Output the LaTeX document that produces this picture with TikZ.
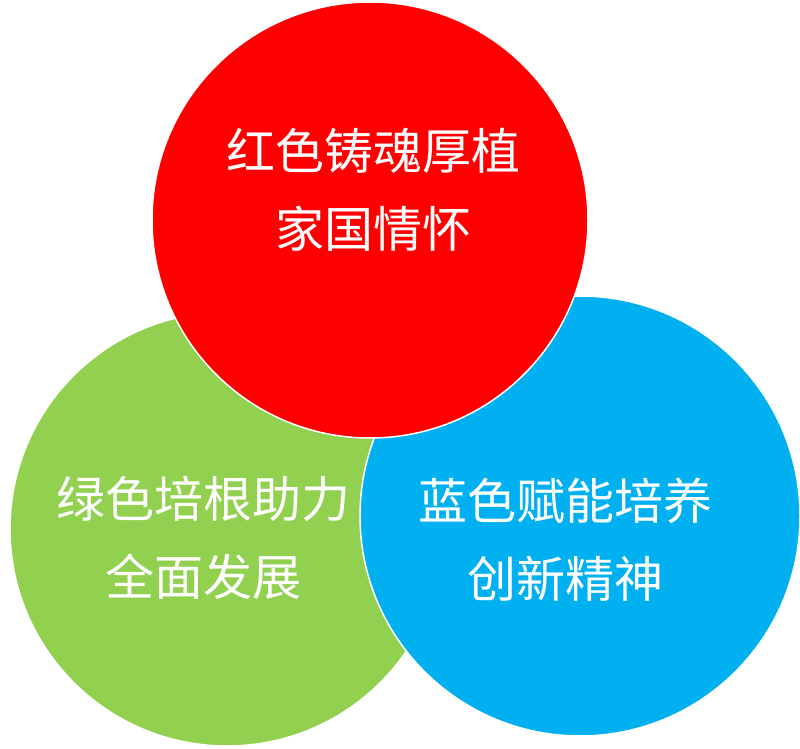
\documentclass[tikz,border=0pt]{standalone}
\usepackage{fontspec}
\newfontfamily\cjk{Noto Sans CJK SC}
\definecolor{redc}{RGB}{255,0,0}
\definecolor{greenc}{RGB}{146,208,80}
\definecolor{bluec}{RGB}{0,176,240}
\begin{document}
\begin{tikzpicture}[x=1pt,y=1pt,
  disc/.style={draw=white,line width=1.5pt},
  lbl/.style={text=white,font=\cjk\fontsize{49}{78}\selectfont,align=center}]
\useasboundingbox (0,0) rectangle (800,748);
% circles
\fill[greenc,disc] (227,219) circle (217);
\fill[bluec,disc] (580,232) circle (220);
\fill[redc,disc] (370,528) circle (218);
% labels
\node[lbl] (tred) at (373,558) {红色铸魂厚植\\家国情怀};
\node[lbl] (tgreen) at (203,210) {绿色培根助力\\全面发展};
\node[lbl] (tblue) at (565,208) {蓝色赋能培养\\创新精神};
\end{tikzpicture}
\end{document}
